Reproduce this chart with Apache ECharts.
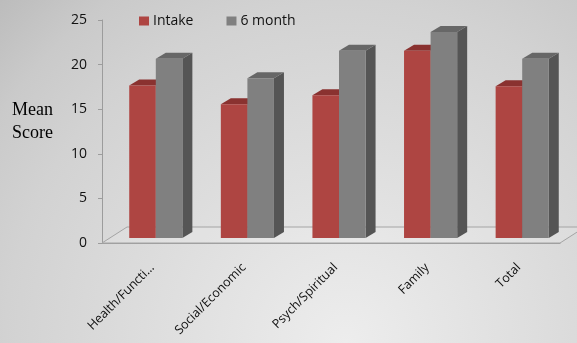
<!DOCTYPE html>
<html>
<head>
<meta charset="utf-8">
<script src="https://cdn.jsdelivr.net/npm/echarts@6/dist/echarts.min.js"></script>
<style>html,body{margin:0;padding:0;}#c{width:577px;height:343px;}</style>
</head>
<body>
<div id="c"></div>
<script>
var categories = ["Health/Functi...", "Social/Economic", "Psych/Spiritual", "Family", "Total"];
var intake = [17.1, 15.0, 16.0, 21.0, 17.0];
var sixMonth = [20.1, 17.9, 21.0, 23.1, 20.1];
var yTicks = [0, 5, 10, 15, 20, 25];

var DX = 8, DY = -5;      // bar plane offset inside the 3D floor
var SX = 10, SY = -6;     // bar depth
var FX = 25, FY = -16;    // floor depth

function barRenderer(seriesIdx, front, top, side) {
  return function (params, api) {
    var cat = api.value(0), val = api.value(1);
    var c = api.coord([cat, val]);
    var b = api.coord([cat, 0]);
    var band = api.size([1, 0])[0];
    var w = band * 0.29;
    var x0 = c[0] + (seriesIdx === 0 ? -w : 0) + DX;
    var x1 = x0 + w;
    var yt = c[1] + DY;
    var yb = b[1] + DY;
    return {
      type: 'group',
      children: [
        { type: 'polygon', shape: { points: [[x1, yt], [x1 + SX, yt + SY], [x1 + SX, yb + SY], [x1, yb]] }, style: { fill: side } },
        { type: 'polygon', shape: { points: [[x0, yt], [x1, yt], [x1 + SX, yt + SY], [x0 + SX, yt + SY]] }, style: { fill: top } },
        { type: 'rect', shape: { x: x0, y: yt, width: w, height: yb - yt }, style: { fill: front } }
      ]
    };
  };
}

var chart = echarts.init(document.getElementById('c'));
chart.setOption({
  backgroundColor: { type: 'radial', x: 0.6, y: 1.0, r: 1.42, colorStops: [
    { offset: 0, color: '#ededed' }, { offset: 0.7, color: '#d2d2d2' },
    { offset: 0.85, color: '#cacaca' }, { offset: 1, color: '#bcbcbc' }] },
  animation: false,
  textStyle: { fontFamily: 'Open Sans' },
  legend: {
    data: ['Intake', '6 month'],
    left: 134, top: 9,
    icon: 'rect', itemWidth: 10, itemHeight: 9, itemGap: 33,
    textStyle: { fontFamily: 'Open Sans', fontSize: 14, color: '#111', padding: [0, 0, 0, -1] }
  },
  graphic: [{
    type: 'text', left: 12, top: 99,
    style: { text: 'Mean\nScore', font: '18px "Liberation Serif"', lineHeight: 23, fill: '#000', align: 'left' }
  }],
  grid: { left: 102, right: 17, top: 20, bottom: 100 },
  xAxis: {
    type: 'category', data: categories,
    axisLine: { lineStyle: { color: '#9c9c9c' } },
    axisTick: { length: 5, lineStyle: { color: '#9c9c9c' } },
    axisLabel: { rotate: 45, fontSize: 12.5, color: '#111', margin: 18, interval: 0, verticalAlign: 'top' }
  },
  yAxis: {
    type: 'value', min: yTicks[0], max: yTicks[yTicks.length - 1], interval: 5,
    axisLine: { show: true, lineStyle: { color: '#9c9c9c' } },
    axisTick: { show: true, length: 4, lineStyle: { color: '#9c9c9c' } },
    splitLine: { show: false },
    axisLabel: { fontSize: 14, color: '#111', margin: 15 }
  },
  series: [
    {
      type: 'custom', name: 'floor', silent: true, clip: false, z: 1,
      data: [[0, 0]],
      renderItem: function (params, api) {
        var cs = params.coordSys;
        var yb = cs.y + cs.height;
        return {
          type: 'polygon',
          shape: { points: [[cs.x, yb], [cs.x + cs.width, yb], [cs.x + cs.width + FX, yb + FY], [cs.x + FX, yb + FY]] },
          style: { fill: 'rgba(255,255,255,0.12)', stroke: '#a4a4a4', lineWidth: 1 }
        };
      }
    },
    {
      type: 'custom', name: 'Intake', clip: false, z: 2,
      itemStyle: { color: '#ae4542' },
      encode: { x: 0, y: 1 },
      data: intake.map(function (v, i) { return [i, v]; }),
      renderItem: barRenderer(0, '#ae4542', '#8a3230', '#7a2b29')
    },
    {
      type: 'custom', name: '6 month', clip: false, z: 2,
      itemStyle: { color: '#808080' },
      encode: { x: 0, y: 1 },
      data: sixMonth.map(function (v, i) { return [i, v]; }),
      renderItem: barRenderer(1, '#808080', '#676767', '#555555')
    }
  ]
});
</script>
</body>
</html>
